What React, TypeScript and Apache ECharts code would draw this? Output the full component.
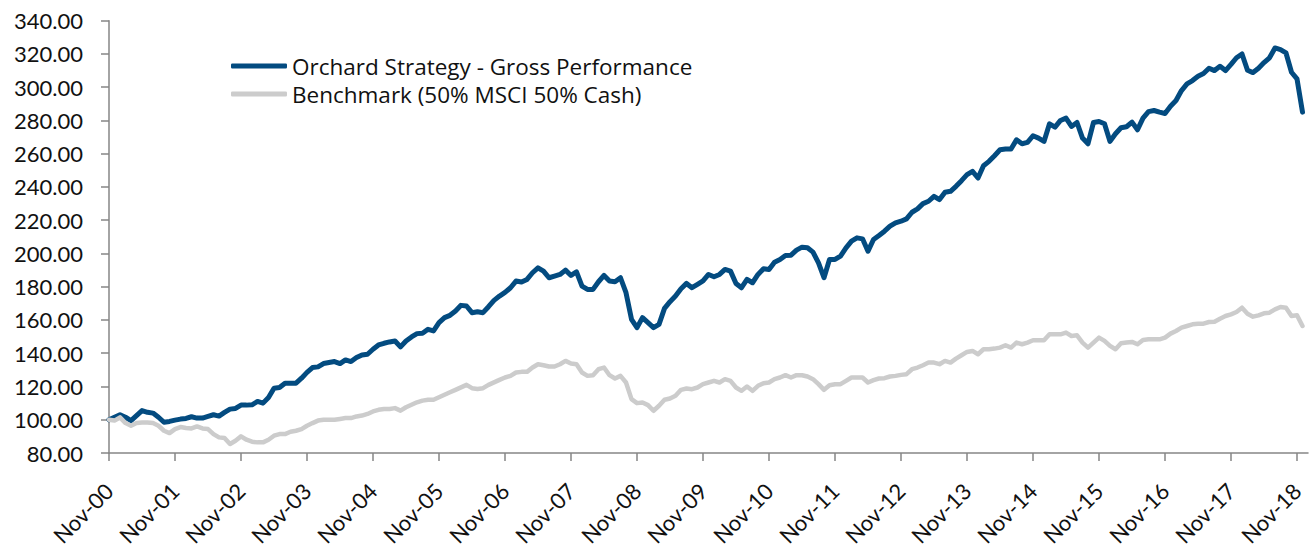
import React, { useEffect, useRef } from "react";
import * as echarts from "echarts";

const MONTH_NAMES = ["Jan", "Feb", "Mar", "Apr", "May", "Jun", "Jul", "Aug", "Sep", "Oct", "Nov", "Dec"];
// Monthly observations from Nov-00; one extra empty slot at the end for the axis overhang
const START_MONTH_INDEX = 10; // November
const START_YEAR = 2000;
const CATEGORY_COUNT = 219;
const categories: string[] = Array.from({ length: CATEGORY_COUNT }, (_, k) => {
  const m = (START_MONTH_INDEX + k) % 12;
  const y = START_YEAR + Math.floor((START_MONTH_INDEX + k) / 12);
  return MONTH_NAMES[m] + "-" + String(y % 100).padStart(2, "0");
});

const seriesNames = ["Orchard Strategy - Gross Performance", "Benchmark (50% MSCI 50% Cash)"];

const orchard: number[] = [
  100, 101.5, 103, 101.5, 99.5, 102.5, 105.5, 104.5, 104, 101.5, 98.5, 99,
  99.8, 100.4, 100.8, 101.8, 101, 101, 102, 103, 102.2, 104.4, 106.4, 106.8,
  108.8, 108.8, 109, 111, 110, 113.4, 119, 119.4, 122, 122, 122, 125,
  128.5, 131.4, 131.8, 133.8, 134.4, 135, 133.8, 136, 135, 137.4, 139, 139.4,
  142.4, 145, 146, 146.8, 147.4, 143.8, 147.4, 149.8, 151.8, 152, 154.4, 153.4,
  158.4, 161.4, 162.8, 165.4, 168.8, 168.4, 164.4, 165, 164.4, 168, 171.8, 174.4,
  176.6, 179.4, 183.4, 182.8, 184.4, 188.4, 191.4, 189.4, 185.4, 186.4, 187.4, 190,
  186.8, 189, 180.4, 178.4, 178.4, 183, 186.8, 183.4, 183, 185.4, 176.4, 160.4,
  155.4, 161.4, 158.4, 155.4, 157.4, 167, 171, 174.4, 178.8, 182, 179.4, 181.4,
  183.5, 187.4, 186, 187.4, 190.4, 189.4, 182, 179.4, 184.4, 182.4, 187.4, 190.8,
  190.4, 194.8, 196.4, 198.8, 199, 202, 203.8, 203.4, 200.8, 194.4, 185.4, 196.4,
  196.4, 198.4, 203.4, 207.4, 209.4, 208.8, 201.4, 208.4, 210.8, 213.4, 216.4, 218.4,
  219.4, 220.8, 224.8, 226.8, 230, 231.4, 234.4, 232.4, 236.8, 237.4, 240.4, 243.8,
  247.4, 249.4, 245.4, 252.8, 255.4, 258.8, 262.4, 262.8, 262.8, 268.4, 266, 266.8,
  270.8, 269.4, 267.4, 278, 276, 280, 281.4, 276.4, 278.8, 269.4, 266, 278.8,
  279.4, 278, 267.4, 272, 275.6, 276.2, 279, 274.4, 281.4, 285.3, 286, 285,
  284.2, 288.6, 292, 298, 302, 304, 306.6, 308.2, 311.4, 310, 312.6, 310,
  313.7, 317.7, 320, 310.2, 308.8, 311.4, 314.8, 317.7, 323.6, 322.6, 320.6, 309,
  305, 285,
];

const benchmark: number[] = [
  100, 99.5, 101.4, 98, 96.4, 98, 98.4, 98.4, 98, 96.4, 93.4, 92,
  94.4, 95.6, 95, 94.8, 96, 94.8, 94.4, 91.4, 89.4, 89, 85.4, 87.4,
  90, 88, 86.8, 86.4, 86.4, 88, 90.4, 91.4, 91.4, 92.8, 93.4, 94.4,
  96.4, 98, 99.5, 100, 100, 100, 100.5, 101, 101, 102, 102.5, 103.5,
  105, 106, 106.5, 106.5, 107, 105.5, 107.5, 109, 110.5, 111.5, 112, 112,
  113.5, 115, 116.5, 118, 119.5, 121, 119, 118.5, 119, 121, 122.5, 124,
  125.4, 126.4, 128.4, 128.8, 128.8, 131.4, 133.4, 132.8, 132, 132, 133.4, 135.4,
  133.8, 133.4, 128.4, 126.4, 126.8, 130.4, 131.4, 126.8, 124.8, 126.4, 122.4, 112.4,
  110, 110.4, 108.8, 105.4, 108.4, 112, 112.8, 114.4, 118, 118.8, 118.4, 119.4,
  121.4, 122.4, 123.4, 122.4, 124.4, 123.4, 119.4, 117.4, 120, 117.4, 120.4, 122,
  122.4, 124.4, 125.4, 126.8, 125.4, 126.8, 126.8, 126, 124.4, 121.4, 118, 120.8,
  121.4, 121.4, 123.4, 125.4, 125.4, 125.4, 122.4, 123.8, 124.8, 125, 126, 126.4,
  127, 127.4, 130.4, 131.4, 132.8, 134.4, 134.4, 133.4, 135.4, 134.4, 136.8, 138.8,
  140.8, 141.4, 139.4, 142.4, 142.4, 142.8, 143.4, 144.8, 143.4, 146.4, 145.4, 146.4,
  147.8, 147.8, 147.8, 151.4, 151.4, 151.4, 152.4, 150.4, 150.8, 146.4, 143.4, 146.4,
  149.4, 147.4, 144.4, 142.4, 146, 146.4, 146.8, 145.4, 148, 148.4, 148.4, 148.4,
  149.4, 151.8, 153.4, 155.4, 156.4, 157.4, 157.8, 157.8, 158.8, 159, 160.8, 162.4,
  163.4, 164.8, 167.4, 163.8, 162, 162.8, 164, 164.4, 166.4, 167.8, 167.4, 162.4,
  162.8, 156.4,
];

const Y_MIN = 80;
const Y_MAX = 340;
const Y_STEP = 20;
const LABEL_EVERY = 12;

const FONT = "Lato, 'Open Sans', sans-serif";
const LEGEND_FONT = "'Open Sans', Lato, sans-serif";
const BLUE = "#034B80";
const GRAY = "#CCCCCC";

export default function App() {
  const ref = useRef<HTMLDivElement>(null);

  useEffect(() => {
    if (!ref.current) return;
    const chart = echarts.init(ref.current, null, { renderer: "svg" });
    const axisColor = "#868686";
    chart.setOption({
      animation: false,
      backgroundColor: "#ffffff",
      textStyle: { fontFamily: FONT },
      grid: { left: 109, right: 2, top: 20.7, bottom: 95, containLabel: false },
      legend: {
        data: [
          { name: seriesNames[0], icon: "roundRect", itemStyle: { color: BLUE } },
          { name: seriesNames[1], icon: "roundRect", itemStyle: { color: GRAY } },
        ],
        orient: "vertical",
        left: 231,
        top: 54,
        padding: 0,
        itemWidth: 56,
        itemHeight: 5,
        itemGap: 4,
        textStyle: { fontFamily: LEGEND_FONT, fontSize: 22.5, lineHeight: 24, color: "#111111" },
        selectedMode: false,
      },
      xAxis: {
        type: "category",
        data: categories,
        boundaryGap: false,
        axisLine: { show: true, lineStyle: { color: axisColor, width: 1.5 } },
        axisTick: {
          show: true,
          length: 8,
          interval: (idx: number) => idx % LABEL_EVERY === 0,
          lineStyle: { color: axisColor, width: 1.5 },
        },
        axisLabel: {
          interval: (idx: number) => idx % LABEL_EVERY === 0,
          rotate: 45,
          margin: 34,
          fontFamily: FONT,
          fontSize: 22,
          color: "#111111",
        },
        splitLine: { show: false },
      },
      yAxis: {
        type: "value",
        min: Y_MIN,
        max: Y_MAX,
        interval: Y_STEP,
        axisLine: { show: true, lineStyle: { color: axisColor, width: 1.5 } },
        axisTick: { show: true, length: 8, lineStyle: { color: axisColor, width: 1.5 } },
        axisLabel: {
          margin: 26,
          fontFamily: FONT,
          fontSize: 22,
          color: "#111111",
          formatter: (v: number) => v.toFixed(2),
        },
        splitLine: { show: false },
      },
      series: [
        {
          name: seriesNames[0],
          type: "line",
          data: orchard,
          showSymbol: false,
          symbol: "none",
          lineStyle: { color: BLUE, width: 5, join: "round", cap: "round" },
          itemStyle: { color: BLUE },
        },
        {
          name: seriesNames[1],
          type: "line",
          data: benchmark,
          showSymbol: false,
          symbol: "none",
          lineStyle: { color: GRAY, width: 4.5, join: "round", cap: "round" },
          itemStyle: { color: GRAY },
        },
      ],
    });
    return () => chart.dispose();
  }, []);

  return (
    <div
      ref={ref}
      style={{ position: "absolute", left: 0, top: 0, width: 1310, height: 549 }}
    />
  );
}
